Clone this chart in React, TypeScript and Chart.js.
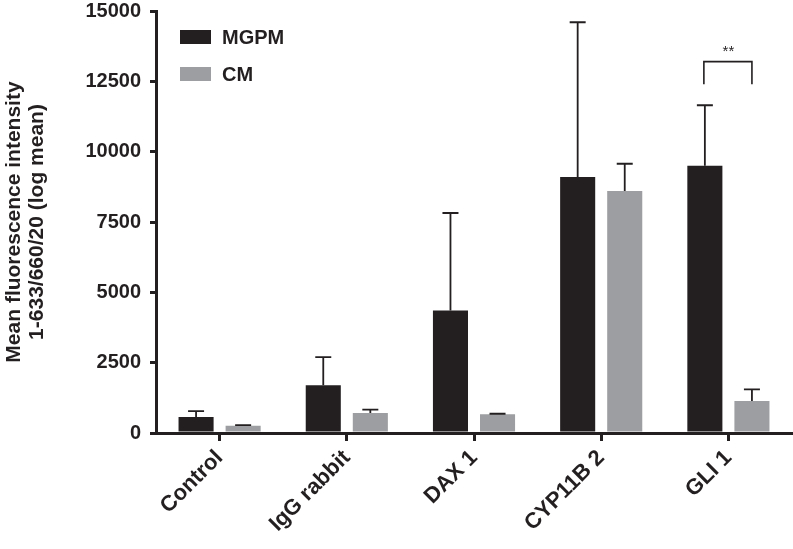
import React, { useEffect, useRef } from "react";
import { Chart, registerables } from "chart.js";

Chart.register(...registerables);

const categories = ["Control", "IgG rabbit", "DAX 1", "CYP11B 2", "GLI 1"];
const seriesNames = ["MGPM", "CM"];
const mgpmValues = [570, 1700, 4350, 9100, 9500];
const mgpmErrors = [210, 1000, 3470, 5500, 2150];
const cmValues = [255, 710, 670, 8600, 1140];
const cmErrors = [25, 120, 15, 970, 410];
const yTicks = [0, 2500, 5000, 7500, 10000, 12500, 15000];
const sigCategory = 4;
const sigTop = 13200;
const sigLegBottom = 12400;
const sigLabel = "**";

const DARK = "#231f20";
const GRAY = "#9d9ea1";
const FONT = "'Liberation Sans', Arial, Helvetica, sans-serif";

const errorBarPlugin = {
  id: "errorBars",
  afterDatasetsDraw(chart: any) {
    const ctx = chart.ctx;
    const yScale = chart.scales.y;
    const errs = [mgpmErrors, cmErrors];
    const vals = [mgpmValues, cmValues];
    ctx.save();
    ctx.strokeStyle = DARK;
    ctx.lineWidth = 1.8;
    chart.data.datasets.forEach((_: any, di: number) => {
      const meta = chart.getDatasetMeta(di);
      meta.data.forEach((bar: any, i: number) => {
        const top = yScale.getPixelForValue(vals[di][i] + errs[di][i]);
        const x = bar.x;
        ctx.beginPath();
        ctx.moveTo(x, bar.y);
        ctx.lineTo(x, top);
        ctx.moveTo(x - 8, top);
        ctx.lineTo(x + 8, top);
        ctx.stroke();
      });
    });
    // significance bracket
    const b0 = chart.getDatasetMeta(0).data[sigCategory];
    const b1 = chart.getDatasetMeta(1).data[sigCategory];
    const yt = yScale.getPixelForValue(sigTop);
    const yb = yScale.getPixelForValue(sigLegBottom);
    ctx.lineWidth = 1.6;
    ctx.beginPath();
    ctx.moveTo(b0.x - 1, yb);
    ctx.lineTo(b0.x - 1, yt);
    ctx.lineTo(b1.x, yt);
    ctx.lineTo(b1.x, yb);
    ctx.stroke();
    ctx.fillStyle = DARK;
    ctx.font = `15px ${FONT}`;
    ctx.textAlign = "center";
    ctx.textBaseline = "bottom";
    ctx.fillText(sigLabel, (b0.x + b1.x) / 2, yt - 2);
    ctx.restore();
  },
};

const legendPlugin = {
  id: "customLegend",
  afterDraw(chart: any) {
    const ctx = chart.ctx;
    const colors = [DARK, GRAY];
    const rows = [37, 74];
    ctx.save();
    ctx.font = `bold 20px ${FONT}`;
    ctx.textBaseline = "middle";
    ctx.textAlign = "left";
    seriesNames.forEach((name, i) => {
      ctx.fillStyle = colors[i];
      ctx.fillRect(180, rows[i] - 7, 31, 14);
      ctx.fillStyle = DARK;
      ctx.fillText(name, 222, rows[i] + 1);
    });
    ctx.restore();
  },
};

export default function App() {
  const ref = useRef<HTMLCanvasElement>(null);
  useEffect(() => {
    document.body.style.margin = "0";
    const chart = new Chart(ref.current!, {
      type: "bar",
      data: {
        labels: categories,
        datasets: [
          {
            label: seriesNames[0],
            data: mgpmValues,
            backgroundColor: DARK,
            categoryPercentage: 0.74,
            barPercentage: 0.745,
          },
          {
            label: seriesNames[1],
            data: cmValues,
            backgroundColor: GRAY,
            categoryPercentage: 0.74,
            barPercentage: 0.745,
          },
        ],
      },
      options: {
        animation: false,
        responsive: false,
        maintainAspectRatio: false,
        layout: { padding: { top: 11, right: 1, left: 0, bottom: 0 } },
        plugins: {
          legend: { display: false },
          tooltip: { enabled: false },
        },
        scales: {
          x: {
            grid: {
              display: true,
              drawOnChartArea: false,
              offset: false,
              tickLength: 8,
              lineWidth: 3,
              color: DARK,
            },
            border: { display: true, color: DARK, width: 3 },
            ticks: {
              color: DARK,
              font: { family: FONT, size: 22, weight: "bold" },
              maxRotation: 45,
              minRotation: 45,
              padding: 4,
            },
            afterFit(scale: any) {
              scale.height = 116;
              scale.paddingLeft = 0;
              scale.paddingRight = 0;
            },
          },
          y: {
            min: 0,
            max: 15000,
            afterBuildTicks(scale: any) {
              scale.ticks = yTicks.map((v) => ({ value: v }));
            },
            grid: {
              display: true,
              drawOnChartArea: false,
              tickLength: 6,
              lineWidth: 3,
              color: DARK,
            },
            border: { display: true, color: DARK, width: 3 },
            ticks: {
              color: DARK,
              font: { family: FONT, size: 20, weight: "bold" },
              padding: 9,
              callback: (v: any) => String(v),
            },
            title: {
              display: true,
              text: ["Mean fluorescence intensity", "1-633/660/20 (log mean)"],
              color: DARK,
              font: { family: FONT, size: 21, weight: "bold", lineHeight: 1.1 },
              padding: { top: 3, bottom: 0 },
            },
            afterFit(scale: any) {
              scale.width = 156;
              scale.paddingTop = 0;
              scale.paddingBottom = 0;
            },
          },
        },
      },
      plugins: [errorBarPlugin, legendPlugin],
    });
    return () => chart.destroy();
  }, []);
  return (
    <div style={{ width: 793, height: 549, background: "#fff" }}>
      <canvas ref={ref} width={793} height={549} style={{ display: "block" }} />
    </div>
  );
}
